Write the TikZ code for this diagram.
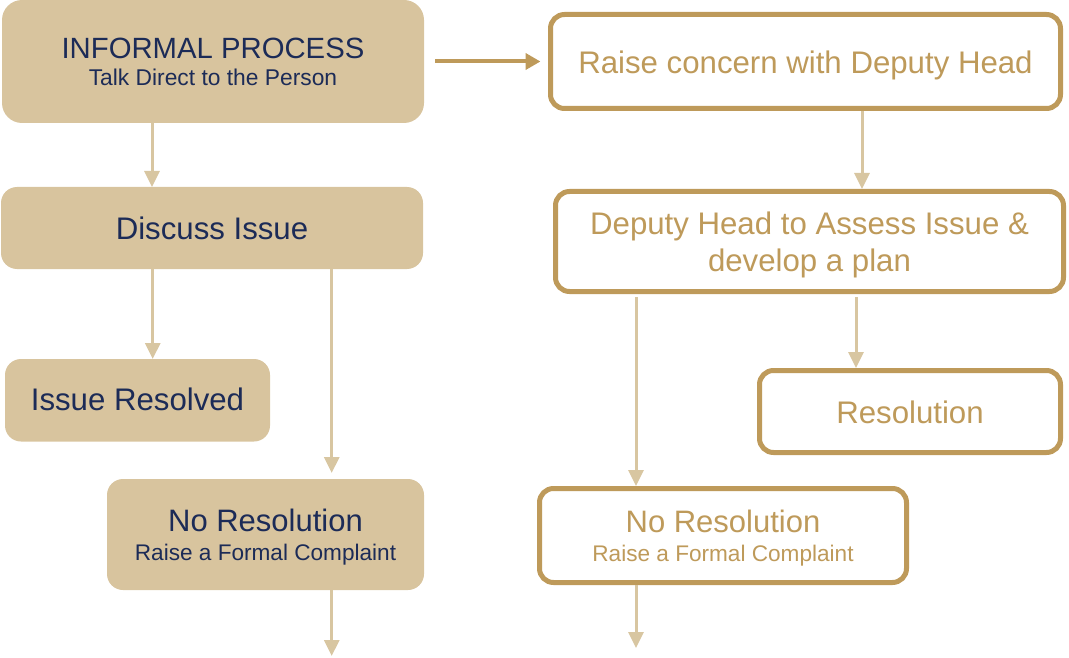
\documentclass[tikz,border=0pt]{standalone}
\usepackage{fontspec}
\setmainfont{Liberation Sans}
\usetikzlibrary{arrows.meta}
\definecolor{tanfill}{HTML}{D8C49E}
\definecolor{navy}{HTML}{1C2B57}
\definecolor{gold}{HTML}{BE9A5A}
\definecolor{lightarr}{HTML}{D8C6A1}
\begin{document}
\begin{tikzpicture}[x=1pt,y=-1pt,
  box/.style={inner sep=0pt, outer sep=0pt, align=center, text depth=0pt},
  solidbox/.style={box, fill=tanfill, text=navy, rounded corners=16pt},
  linebox/.style={box, draw=gold, line width=5pt, fill=white, text=gold, rounded corners=14pt},
  big/.style={font=\fontsize{31.2}{37}\selectfont},
  conn/.style={draw=lightarr, line width=3pt, -{Triangle[length=16pt,width=15pt]}},
  mainconn/.style={draw=gold, line width=4pt, -{Triangle[length=15pt,width=16pt]}}
]
\useasboundingbox (0,0) rectangle (1069,658);

% left column (filled)
\node[solidbox, rounded corners=20pt, minimum width=422pt, minimum height=123pt, text depth=-4pt,
      font=\fontsize{22.8}{27}\selectfont] (informal) at (213,61.5)
  {{\fontsize{29.3}{27}\selectfont INFORMAL PROCESS}\\Talk Direct to the Person};
\node[solidbox, big, minimum width=422pt, minimum height=82pt, text height=24pt] (discuss) at (212,228) {Discuss Issue};
\node[solidbox, big, minimum width=265pt, minimum height=82.5pt, text height=21pt] (issueres) at (137.5,400.25) {Issue Resolved};
\node[solidbox, minimum width=317pt, minimum height=111pt, text depth=-4pt,
      font=\fontsize{22.6}{29}\selectfont] (noresL) at (265.5,534.5)
  {{\fontsize{31}{29}\selectfont No Resolution}\\Raise a Formal Complaint};

% right column (outlined)
\node[linebox, big, minimum width=510pt, minimum height=94pt, text height=25pt] (raise) at (805.5,61.5) {Raise concern with Deputy Head};
\node[linebox, big, minimum width=508pt, minimum height=100pt, text depth=-4pt] (deputy) at (809.5,241.5)
  {Deputy Head to Assess Issue \&\\develop a plan};
\node[linebox, big, minimum width=301pt, minimum height=82pt, text height=23pt] (resolution) at (910,411.5) {Resolution};
\node[linebox, minimum width=367pt, minimum height=94pt, text depth=-4pt,
      font=\fontsize{22.6}{29}\selectfont] (noresR) at (723,535.5)
  {{\fontsize{31}{29}\selectfont No Resolution}\\Raise a Formal Complaint};

% connectors
\draw[mainconn] ([xshift=11pt]informal.east) -- ([xshift=-10pt]raise.west);
\draw[conn] ([xshift=150pt]informal.south west) -- ([xshift=151pt]discuss.north west);
\draw[conn] ([xshift=151.7pt]discuss.south west) -- ([xshift=147.7pt]issueres.north west);
\draw[conn] ([xshift=330.7pt]discuss.south west) -- ([xshift=224.7pt,yshift=6pt]noresL.north west);
\coordinate (endL) at (331.7,656);
\draw[conn] ([xshift=224.7pt]noresL.south west) -- (endL);

\draw[conn] ([xshift=311.5pt,yshift=-2.5pt]raise.south west) -- ([xshift=306.5pt,yshift=2.5pt]deputy.north west);
\draw[conn] ([xshift=80.5pt,yshift=-5.5pt]deputy.south west) -- ([xshift=96.5pt,yshift=2.5pt]noresR.north west);
\draw[conn] ([xshift=300.5pt,yshift=-5.5pt]deputy.south west) -- ([xshift=96.5pt,yshift=2.5pt]resolution.north west);
\coordinate (endR) at (636,648);
\draw[conn] ([xshift=96.5pt,yshift=-2.5pt]noresR.south west) -- (endR);
\end{tikzpicture}
\end{document}
